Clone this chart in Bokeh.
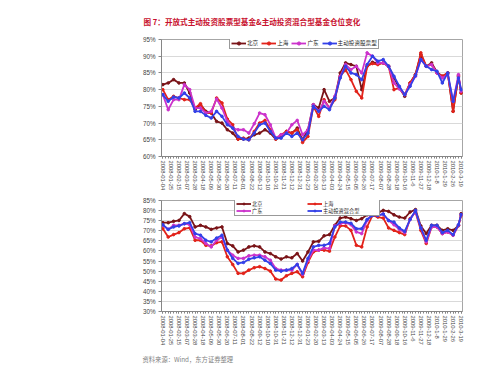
import math
from bokeh.plotting import figure
from bokeh.models import Range1d, FixedTicker, Legend, LegendItem, Title
from bokeh.layouts import column
from bokeh.embed import file_html
from bokeh.resources import INLINE

# ---------------- data ----------------
x_labels = ["2008-01-04", "2008-01-25", "2008-02-15", "2008-03-07", "2008-03-28", "2008-04-18",
            "2008-05-09", "2008-05-30", "2008-06-20", "2008-07-11", "2008-08-01", "2008-08-22",
            "2008-09-12", "2008-10-10", "2008-10-31", "2008-11-21", "2008-12-12", "2008-12-31",
            "2009-01-23", "2009-02-20", "2009-03-13", "2009-04-03", "2009-04-24", "2009-05-15",
            "2009-06-05", "2009-06-26", "2009-07-17", "2009-08-07", "2009-08-28", "2009-09-18",
            "2009-10-16", "2009-11-6", "2009-11-27", "2009-12-18", "2010-1-8", "2010-1-29",
            "2010-2-26", "2010-3-19"]
label_step = 3            # one date label every 3 weekly points
n_points = 112            # weekly observations
idx = list(range(0, 111, 2)) + [111]   # weekly positions of the read-off values

top_ticks = [60, 65, 70, 75, 80, 85, 90, 95]
top_tick_labels = ["60%", "65%", "70%", "75%", "80%", "85%", "90%", "95%"]
bot_ticks = [30, 35, 40, 45, 50, 55, 60, 65, 70, 75, 80, 85]
bot_tick_labels = ["30%", "35%", "40%", "45%", "50%", "55%", "60%", "65%", "70%", "75%", "80%", "85%"]

top_names = ["北京", "上海", "广东", "主动投资股票型"]
bot_names = ["北京", "上海", "广东", "主动投资混合型"]

top_bj = [81.5, 82, 83, 82, 82, 79, 74, 75.5, 73.5, 73,
          70.5, 70, 68, 67, 65.2, 65.2, 65.5, 66.5, 67, 68,
          67, 65.2, 66, 67.5, 67, 68.5, 65, 68, 75.5, 74.5,
          80, 76.5, 77.5, 85, 88, 87.5, 87, 80, 87, 88.2,
          87.8, 88, 87, 83.5, 80.5, 78, 82, 84.5, 90.5, 87,
          88, 85.2, 84, 85, 73.5, 84, 79]
top_sh = [80, 77, 78, 77.5, 77, 77, 74.5, 75.8, 73, 73,
          77.5, 76, 71.2, 69.5, 65.2, 65.5, 65, 67.5, 70, 70.8,
          68, 65.2, 66.5, 67.5, 67, 68, 64.2, 66, 75, 72,
          77, 74.5, 77, 84, 86, 83, 79.5, 77.5, 87, 87.8,
          87.5, 88, 87, 80, 80.5, 78.5, 82, 84.5, 91, 87,
          87.5, 85, 84, 85, 73.5, 84.2, 79]
top_gd = [78.5, 74, 77, 77, 81.5, 80, 74.5, 74.5, 73, 73.5,
          77.2, 74.5, 70.5, 68.5, 68, 68, 67, 69.8, 73, 72.5,
          69.5, 65.5, 66.5, 67, 69.5, 70.8, 66.5, 68, 75.5, 73.5,
          76.5, 74.5, 78, 84, 87.5, 86, 87, 85, 91, 90,
          88, 88, 87, 82, 80.2, 78.5, 81.5, 84, 89, 87,
          87.5, 85, 83.5, 84.5, 76.5, 84.5, 79.5]
top_stock = [78.5, 76.5, 77.8, 77.5, 79, 77.5, 73.5, 73.5, 72.3, 71.5,
             73.5, 72, 69.5, 68.5, 66, 65.2, 65, 67, 69.5, 70,
             67.5, 65.5, 65.5, 67, 66, 67, 65, 67, 75, 73.5,
             75, 74, 77.5, 83.5, 87, 85, 84.5, 83, 87.5, 90,
             88.5, 89, 87, 84, 81, 78.5, 81, 84.2, 89, 87,
             86, 85.5, 82, 85, 76.5, 83.5, 80]

bot_bj = [74, 74, 74.7, 75.1, 78.5, 77, 71.9, 72.7, 71.9, 70.7,
          71.4, 71.9, 63.7, 62.5, 59.5, 60.4, 62, 62.5, 62, 59.5,
          58.7, 57.1, 56, 57.1, 56.6, 58.7, 55, 59.5, 64.5, 64.8,
          67.5, 68.1, 72.7, 76.3, 76.8, 76, 75.1, 76, 77.9, 79.6,
          78.9, 80.1, 79.6, 77.9, 76.8, 76.3, 79.3, 80.5, 72.4, 68.6,
          72.7, 72.7, 70.2, 71, 70.2, 72.5, 78.5]
bot_sh = [71, 66.9, 68.1, 69.1, 71, 71.4, 65.3, 65.3, 62.8, 62.5,
          64.1, 64.5, 57.1, 53.3, 48.9, 48.9, 50.5, 51.7, 52.2, 51.3,
          50, 46.1, 45.6, 47.7, 48.9, 49.7, 47.2, 54.3, 59.5, 60.4,
          60.4, 59.9, 66.9, 72.4, 72.4, 70.2, 62.8, 62, 71.9, 77.6,
          76.8, 76.3, 71.4, 70.2, 69.1, 68.1, 76, 79.3, 70.2, 63.7,
          71.9, 71.9, 68.6, 69.4, 67.8, 72.7, 77.5]
bot_gd = [72.7, 70.7, 72.7, 72.7, 73.5, 73, 66.9, 66.1, 63.7, 62,
          65.3, 66.9, 60.4, 57.9, 56.3, 56.3, 57.6, 57.9, 57.9, 57.1,
          55.4, 51.3, 50.5, 50.5, 50.5, 53.3, 48.4, 55.4, 60.4, 60.4,
          61.5, 61.2, 72.4, 73.5, 74, 73, 69.4, 68.6, 75.1, 78.9,
          77.6, 78.3, 75.1, 73, 70.7, 69.1, 75.6, 79.6, 71.4, 64.5,
          71.9, 71.9, 68.6, 69.4, 67.8, 72.7, 78]
bot_mix = [73, 70.7, 71.9, 72.4, 73.5, 74, 68.6, 67.8, 65.3, 64.5,
           66.4, 67.8, 60.4, 56.3, 53.8, 54.3, 55.9, 56.6, 57.1, 55.4,
           53.8, 50.5, 50, 50.5, 51.3, 53.3, 48.9, 56.3, 62, 62.8,
           62.8, 63.7, 71.9, 74.3, 74.3, 73.7, 71, 71, 75.6, 77.6,
           77.6, 78.3, 75.1, 74.3, 71.4, 69.7, 75.6, 80.1, 71.4, 65.3,
           72.7, 72.7, 69.1, 70.2, 68.1, 73, 78]

colors = ["#7A1418", "#E2231A", "#CC33CC", "#3340E8"]
FONT = "Noto Sans CJK SC"
NUM_FONT = "Liberation Sans"


def style_legend(leg, label_w, item_h, font_size):
    leg.label_text_font = FONT
    leg.label_text_font_size = font_size
    leg.label_text_color = "#222222"
    leg.label_text_baseline = "middle"
    leg.label_standoff = 1
    leg.label_height = item_h
    leg.label_width = label_w
    leg.glyph_width = 15
    leg.glyph_height = item_h
    leg.spacing = 3
    leg.padding = 1
    leg.margin = 0
    leg.border_line_color = "#333333"
    leg.border_line_width = 0.8
    leg.background_fill_color = "white"
    leg.background_fill_alpha = 1


def make_chart(series, names, yticks, ylabels, yr, frame_h, top_border, bottom_border):
    p = figure(frame_width=301, frame_height=frame_h,
               min_border_left=161, min_border_right=37,
               min_border_top=top_border, min_border_bottom=bottom_border,
               x_range=Range1d(-0.5, n_points - 0.5), y_range=Range1d(*yr),
               output_backend="svg", toolbar_location=None,
               background_fill_color="white", border_fill_color="white")
    p.outline_line_color = "#A6A6A6"
    p.outline_line_width = 1
    p.xgrid.grid_line_color = None
    p.ygrid.grid_line_color = "#D9D9D9"
    p.ygrid.grid_line_width = 1

    tick_pos = [k * label_step for k in range(len(x_labels))]
    p.xaxis.ticker = FixedTicker(ticks=tick_pos, minor_ticks=list(range(n_points)))
    p.xaxis.major_label_overrides = {t: lab for t, lab in zip(tick_pos, x_labels)}
    p.xaxis.major_label_orientation = -math.pi / 2
    p.xaxis.major_label_text_font = NUM_FONT
    p.xaxis.major_label_text_font_size = "5.8px"
    p.xaxis.major_label_text_color = "#444444"
    p.xaxis.major_label_standoff = 2
    p.xaxis.axis_line_color = "#868686"
    p.xaxis.major_tick_line_color = "#868686"
    p.xaxis.minor_tick_line_color = "#868686"
    p.xaxis.major_tick_out = 2
    p.xaxis.major_tick_in = 0
    p.xaxis.minor_tick_out = 2
    p.xaxis.minor_tick_in = 0

    p.yaxis.ticker = FixedTicker(ticks=yticks)
    p.yaxis.major_label_overrides = {t: lab for t, lab in zip(yticks, ylabels)}
    p.yaxis.major_label_text_font = NUM_FONT
    p.yaxis.major_label_text_font_size = "6.3px"
    p.yaxis.major_label_text_color = "#444444"
    p.yaxis.major_label_standoff = 3
    p.yaxis.axis_line_color = "#868686"
    p.yaxis.major_tick_line_color = "#868686"
    p.yaxis.major_tick_out = 3
    p.yaxis.major_tick_in = 0
    p.yaxis.minor_tick_line_color = None

    items = []
    for vals, name, c in zip(series, names, colors):
        r1 = p.line(idx, vals, line_color=c, line_width=1.8)
        r2 = p.scatter(idx, vals, marker="circle", size=2.6, fill_color=c, line_color=c)
        items.append(LegendItem(label=name, renderers=[r1, r2]))
    return p, items


# top chart: canvas y 0..194, frame y 39..156, x 161..462
p1, items1 = make_chart([top_bj, top_sh, top_gd, top_stock], top_names, top_ticks,
                        top_tick_labels, (60, 95), 117, 39, 38)
leg1 = Legend(items=items1, location=(68, 107), orientation="horizontal")
style_legend(leg1, 0, 8, "5.6px")
p1.add_layout(leg1, "center")
p1.title.text = "图 7：开放式主动投资股票型基金&主动投资混合型基金仓位变化"
p1.title.text_font = FONT
p1.title.text_font_size = "7.6px"
p1.title.text_font_style = "bold"
p1.title.text_color = "#C8102E"
p1.title.align = "left"
p1.title.offset = -18
p1.title.standoff = 26

# bottom chart: canvas y 194..374, frame y 200..311
p2, items2 = make_chart([bot_bj, bot_sh, bot_gd, bot_mix], bot_names, bot_ticks,
                        bot_tick_labels, (30, 85), 111, 6, 63)
# two rows: 北京 上海 / 广东 主动投资混合型 (column-major fill)
leg2 = Legend(items=[items2[0], items2[2], items2[1], items2[3]], location=(73, 95),
              orientation="vertical", ncols=2)
style_legend(leg2, 55, 5, "5.2px")
leg2.spacing = 0
p2.add_layout(leg2, "center")
src = Title(text="资料来源：Wind，东方证券整理", align="left", offset=-19, standoff=8,
            text_font=FONT, text_font_size="6.3px", text_font_style="normal",
            text_color="#7F7F7F")
p2.add_layout(src, "below")

layout = column(p1, p2, spacing=0)
open("out.html", "w").write(file_html(layout, INLINE))
